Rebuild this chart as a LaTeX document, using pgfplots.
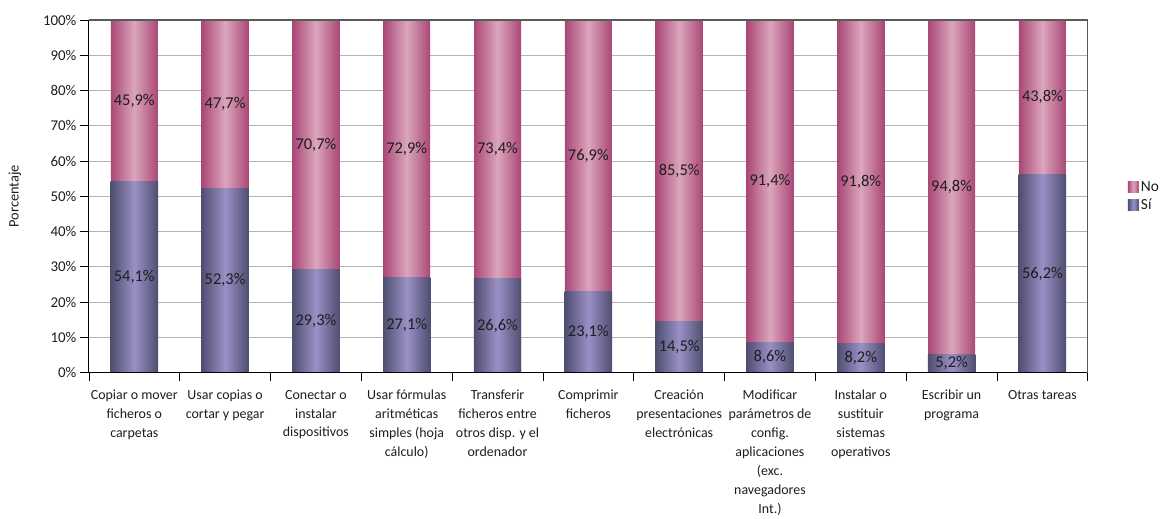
\documentclass[border=0pt]{standalone}
\usepackage{fontspec}
\setmainfont{Carlito}
\usepackage{pgfplots}
\usepackage{pgfplotstable}
\pgfplotsset{compat=1.18}
\definecolor{siE}{HTML}{4E4E70}
\definecolor{siC}{HTML}{9A90C6}
\definecolor{noE}{HTML}{AA4777}
\definecolor{noC}{HTML}{DBA6BC}
\definecolor{gridc}{HTML}{B4B4B4}
\definecolor{labc}{HTML}{1E1E1E}

% si = "Sí", no = "No", tot = si + no (top of each stacked bar)
\pgfplotstableread{
x si no tot
0 54.1 45.9 100
1 52.3 47.7 100
2 29.3 70.7 100
3 27.1 72.9 100
4 26.6 73.4 100
5 23.1 76.9 100
6 14.5 85.5 100
7 8.6 91.4 100
8 8.2 91.8 100
9 5.2 94.8 100
10 56.2 43.8 100
}\datatable

\begin{document}
\begin{tikzpicture}
\begin{axis}[
  scale only axis, width=1000bp, height=353bp,
  xmin=-0.5, xmax=10.5, ymin=0, ymax=100,
  clip=false,
  axis line style={draw=none},
  ytick={0,10,...,100},
  yticklabel={\pgfmathprintnumber{\tick}\%},
  /pgf/number format/assume math mode=true,
  ymajorgrids, grid style={gridc, line width=1pt},
  tick align=outside, tick pos=left,
  major tick length=9bp,
  ytick style={black, line width=0.8pt},
  xtick={0,...,10},
  minor xtick={-0.5,0.5,...,10.5},
  major x tick style={draw=none},
  minor x tick style={black, line width=0.8pt},
  minor tick length=8bp,
  xticklabels={
    {Copiar o mover\\ficheros o\\carpetas},
    {Usar copias o\\cortar y pegar},
    {Conectar o\\instalar\\dispositivos},
    {Usar fórmulas\\aritméticas\\simples (hoja\\cálculo)},
    {Transferir\\ficheros entre\\otros disp. y el\\ordenador},
    {Comprimir\\ficheros},
    {Creación\\presentaciones\\electrónicas},
    {Modificar\\parámetros de\\config.\\aplicaciones\\(exc.\\navegadores\\Int.)},
    {Instalar o\\sustituir\\sistemas\\operativos},
    {Escribir un\\programa},
    {Otras tareas}},
  xticklabel style={align=center, font=\fontsize{14}{19}\selectfont, text=labc, yshift=-5bp, anchor=north},
  yticklabel style={font=\fontsize{15}{18}\selectfont, text=labc},
  ylabel={Porcentaje},
  every axis y label/.style={at={([xshift=-74bp]rel axis cs:0,0.5)}, rotate=90, anchor=center,
    font=\fontsize{14.5}{17}\selectfont, text=labc},
  legend style={at={(1.037,0.5)}, anchor=west, draw=none, fill=none,
    font=\fontsize{15.5}{18}\selectfont, text=labc, row sep=2bp,
    nodes={inner xsep=2bp, inner ysep=2bp}},
  legend cell align=left,
  legend image code/.code={\path[#1] (0bp,-5.5bp) rectangle (11bp,5.5bp);},
]
\pgfplotsinvokeforeach{0,...,10}{
  \addplot[ybar, bar width=0.517, bar shift=0pt, draw=none, forget plot,
    left color=noE, right color=noE, middle color=noC,
    restrict x to domain=#1:#1] table[x=x, y=tot] {\datatable};
  \addplot[ybar, bar width=0.522, bar shift=0pt, draw=none, forget plot,
    left color=siE, right color=siE, middle color=siC,
    restrict x to domain=#1:#1] table[x=x, y=si] {\datatable};
}
\addlegendimage{draw=none, left color=noE, right color=noE, middle color=noC}
\addlegendentry{No}
\addlegendimage{draw=none, left color=siE, right color=siE, middle color=siC}
\addlegendentry{Sí}
\draw[black, line width=0.9pt] (rel axis cs:0,0) -- (rel axis cs:0,1);
\draw[black, line width=0.9pt] (rel axis cs:0,0) -- (rel axis cs:1,0);
\draw[black!65, line width=1.2pt] (rel axis cs:0,1) -- (rel axis cs:1,1) -- (rel axis cs:1,0);
\path (rel axis cs:0,0) ++(-89bp,-145bp) rectangle ++(1164bp,518bp);
\end{axis}
\begin{axis}[
  scale only axis, width=1000bp, height=353bp,
  xmin=-0.5, xmax=10.5, ymin=0, ymax=100,
  clip=false, hide axis,
  /pgf/number format/assume math mode=true,
  nodes near coords={\pgfmathprintnumber[use comma, fixed, fixed zerofill, precision=1, assume math mode=true]{\pgfplotspointmeta}\%},
  every node near coord/.append style={anchor=center, font=\fontsize{16.5}{19}\selectfont, text=labc},
]
\addplot[draw=none, mark=none, point meta=explicit] table[x=x, y expr=\thisrow{si}/2, meta=si] {\datatable};
\addplot[draw=none, mark=none, point meta=explicit] table[x=x, y expr=\thisrow{si}+\thisrow{no}/2, meta=no] {\datatable};
\end{axis}
\end{tikzpicture}
\end{document}
